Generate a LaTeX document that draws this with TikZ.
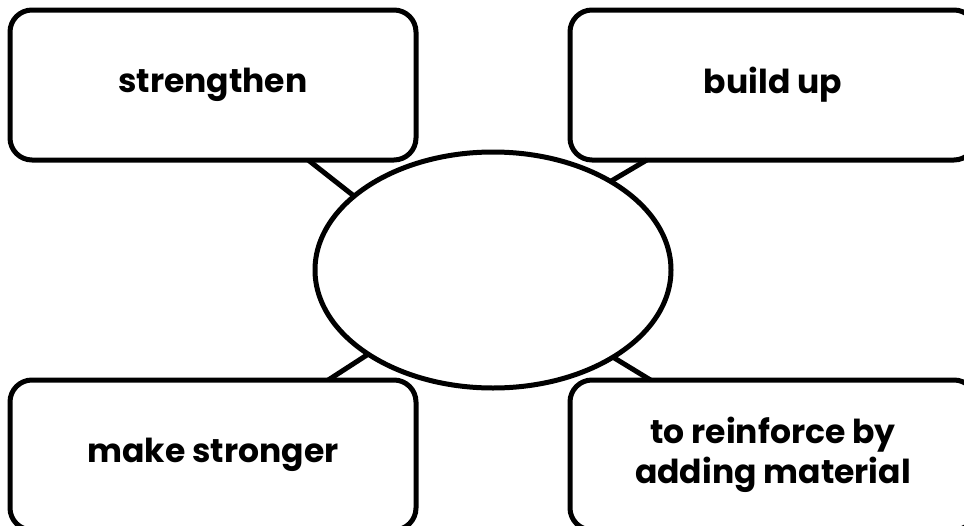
\documentclass[tikz,border=0pt]{standalone}
\usepackage{fontspec}
\setmainfont{Poppins}
\usetikzlibrary{
    positioning,
    calc,
    shapes.geometric
}
\tikzset{
  wordbox/.style = {draw, line width=5pt, rounded corners=22pt,
                    minimum width=406pt, minimum height=150pt, outer sep=0pt,
                    align=center, font=\fontsize{33}{40}\selectfont\bfseries},
  hub/.style     = {draw, ellipse, line width=5pt, outer sep=0pt,
                    minimum width=356pt, minimum height=236pt},
  link/.style    = {line width=5pt}
}

\begin{document}
\begin{tikzpicture}
  \useasboundingbox (0,0) rectangle (964pt,-525pt);

  \node[wordbox] (tl) at (213pt,-85pt) {strengthen};
  \node[wordbox, right=154pt of tl] (tr) {build up};
  \node[wordbox, below=220pt of tl] (bl) {make stronger};
  \node[wordbox, below=220pt of tr] (br) {to reinforce by\\adding material};

  \node[hub] (ell) at ($(tl)!0.5!(br)$) {};

  \draw[link] (ell.152) -- (tl);
  \draw[link] (ell.37) -- (tr);
  \draw[link] (ell.214) -- (bl);
  \draw[link] (ell.324) -- (br);
\end{tikzpicture}
\end{document}
